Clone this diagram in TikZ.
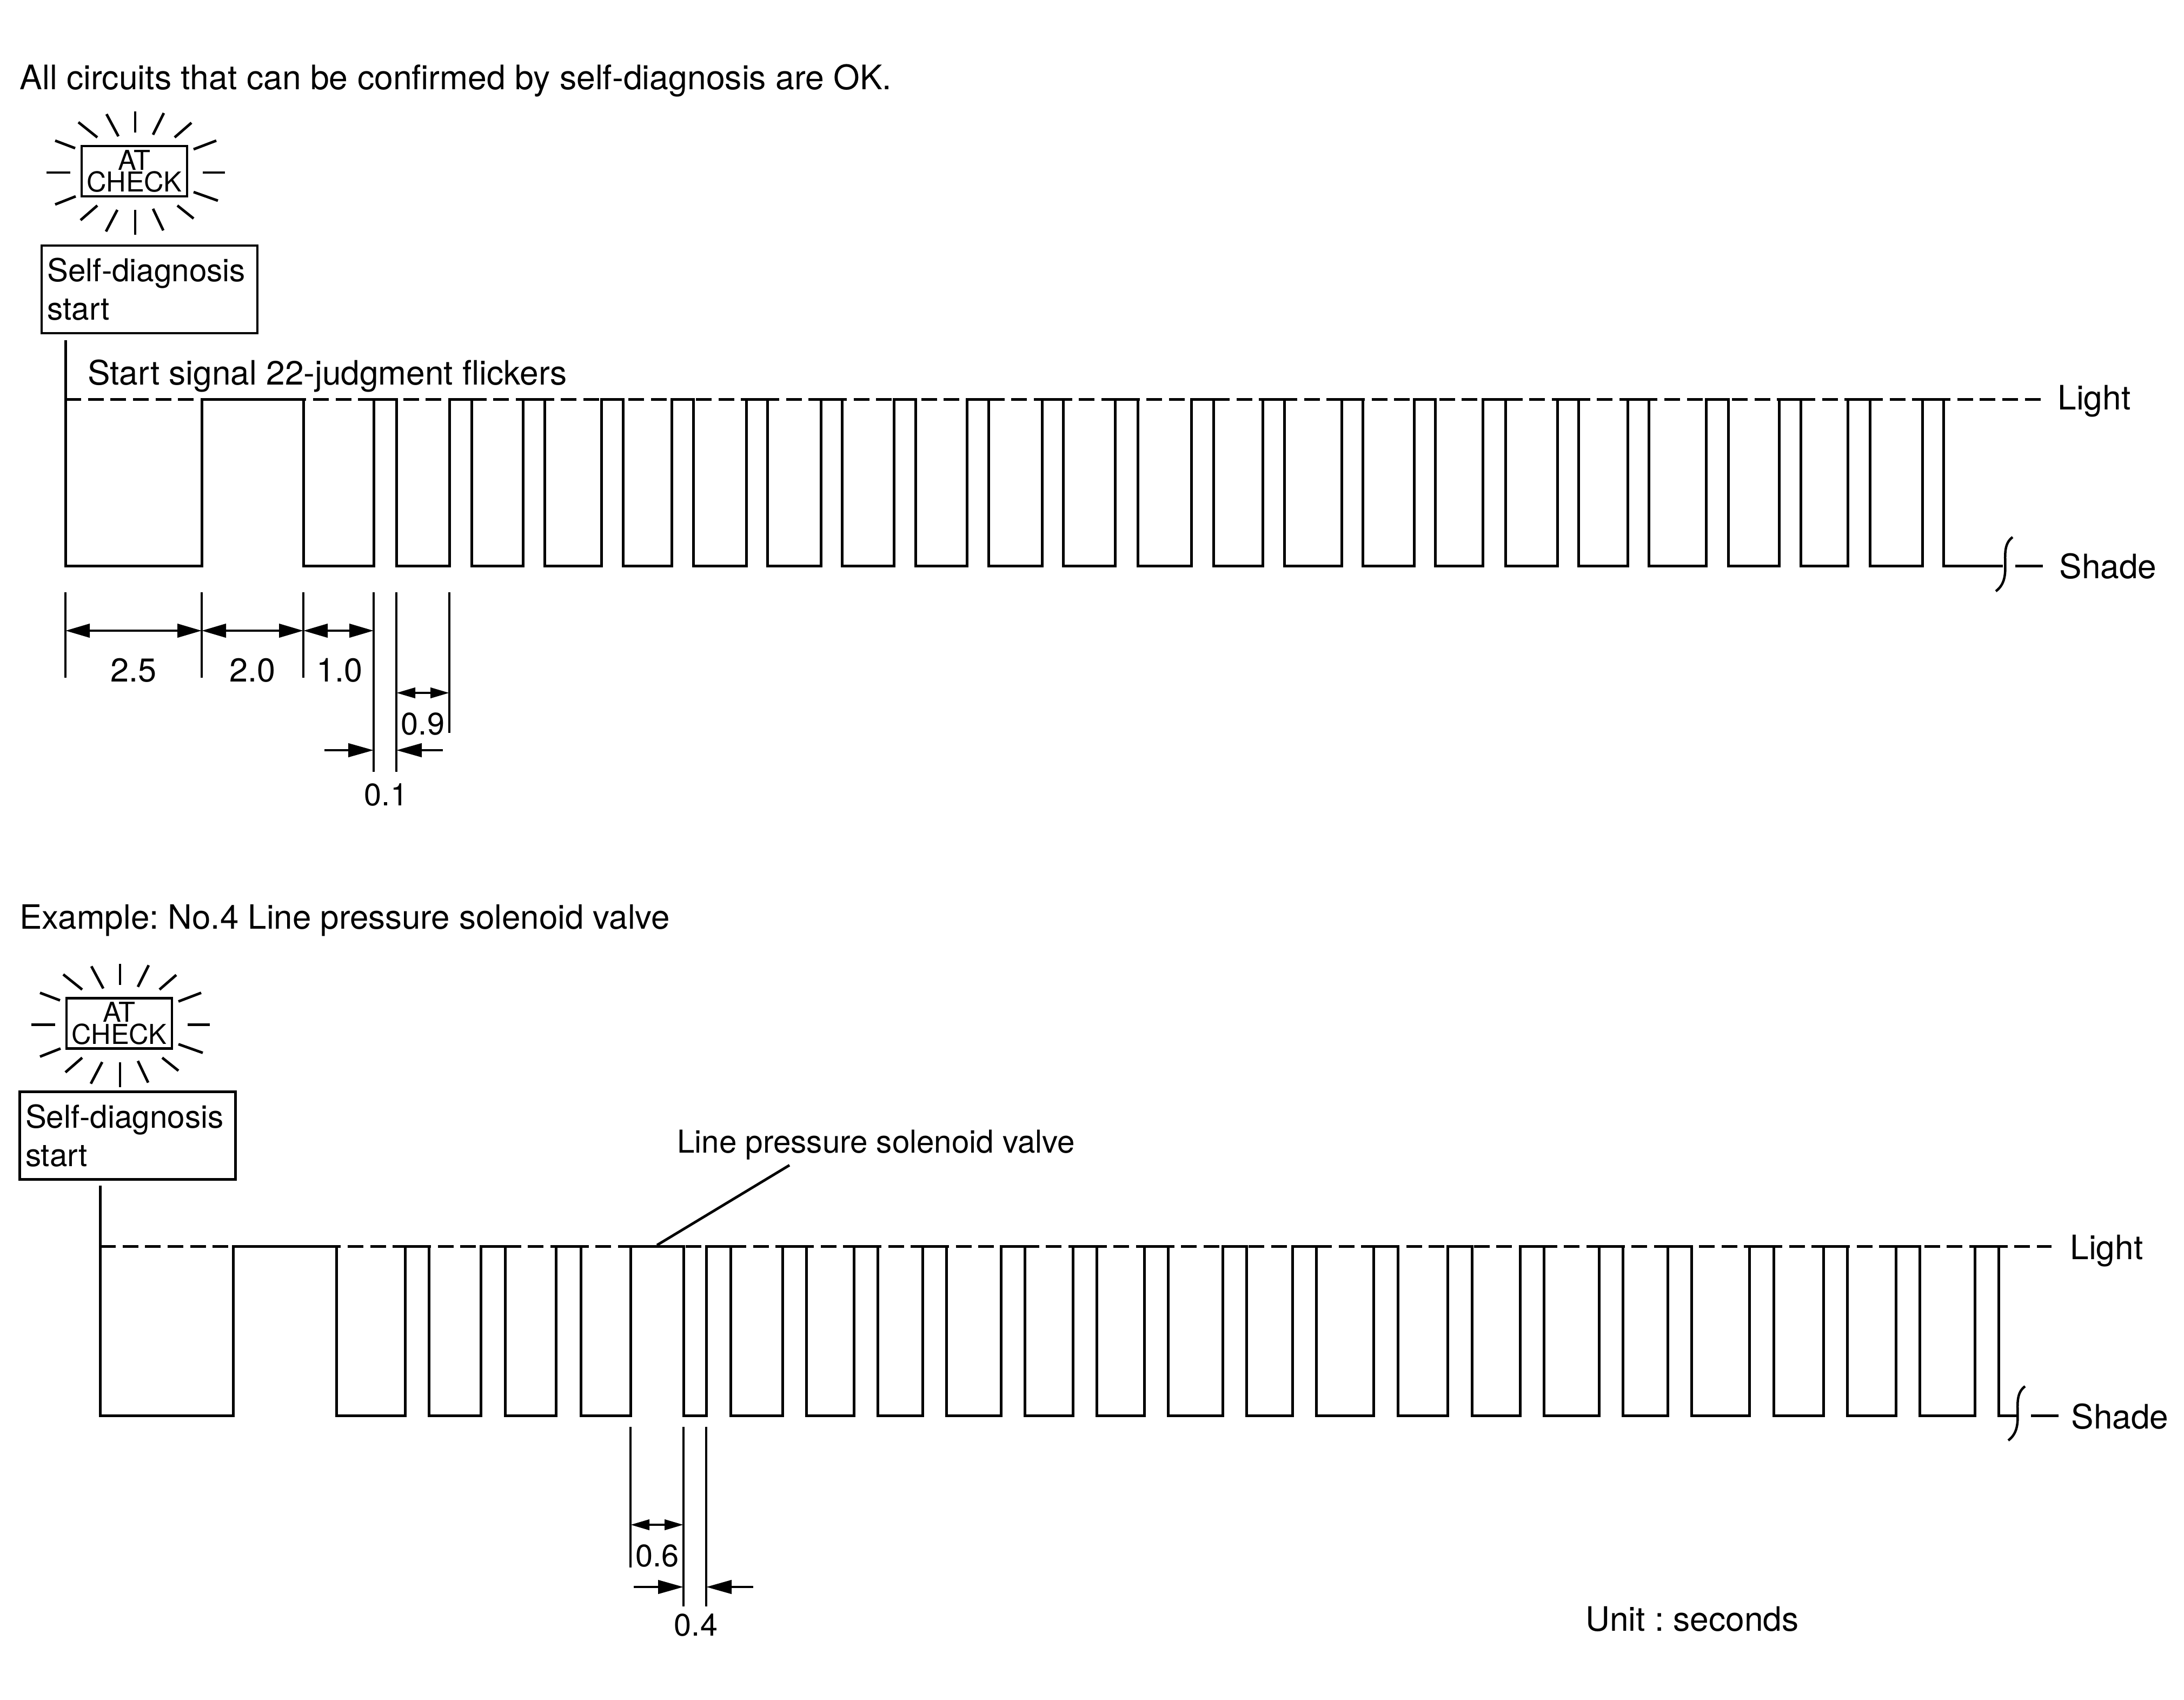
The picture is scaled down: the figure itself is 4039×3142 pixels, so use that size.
\documentclass[tikz,border=0pt]{standalone}
\usepackage{fontspec}
\setmainfont{TeX Gyre Heros}
\usetikzlibrary{arrows.meta}
\begin{document}
\frenchspacing
\begin{tikzpicture}[x=0.1mm, y=-0.1mm, line width=0.5mm]
\tikzset{
  wave/.style={line width=0.5mm,line join=miter},
  lightline/.style={line width=0.5mm,dash pattern=on 2.9mm off 1.265mm},
  head/.style={font=\fontsize{17.78}{20}\selectfont,inner sep=0pt,anchor=base west},
  lab/.style={font=\fontsize{17.7}{20}\selectfont,inner sep=0pt,anchor=base west},
  note/.style={font=\fontsize{16.6}{20}\selectfont,inner sep=0pt,anchor=base west},
  big/.style={font=\fontsize{17.4}{20}\selectfont,inner sep=0pt,anchor=base},
  small/.style={font=\fontsize{16.4}{20}\selectfont,inner sep=0pt,anchor=base},
  startbox/.style={rectangle,draw,line width=0.48mm,minimum width=39.9mm,minimum height=16.2mm,inner xsep=1.05mm,inner ysep=0pt,text width=37.8mm,align=left,font=\fontsize{16.6}{20.2}\selectfont},
  lampbox/.style={rectangle,draw,line width=0.48mm,minimum width=19.5mm,minimum height=9.3mm,inner sep=0pt,align=center,font=\fontsize{14.4}{11.6}\selectfont},
  dimbig/.style={{Triangle[length=4.5mm,width=2.5mm]}-{Triangle[length=4.5mm,width=2.5mm]},line width=0.45mm},
  dimsmall/.style={{Triangle[length=3.5mm,width=1.9mm]}-{Triangle[length=3.5mm,width=1.9mm]},line width=0.45mm},
  dimin/.style={-{Triangle[length=4.7mm,width=2.5mm]},line width=0.45mm},
  atcheck/.pic={
    \node[lampbox] (-box) at (-1.5,-2.5) {AT\\CHECK};
    \foreach \xa/\ya/\xb/\yb in {0/-113/0/-74, 53/-110/33/-70, 104/-92/73/-65, 150/-59/108/-43, 166/0/125/0, 153/52/108/36, 108/85/78/61, 52/107/33/67, 0/115/0/69, -54/109/-33/69, -101/88/-70/61, -148/59/-110/44, -164/0/-120/0, -148/-59/-111/-45, -105/-93/-70/-65, -53/-108/-31/-67}
      \draw[line width=0.48mm] (\xa,\ya) -- (\xb,\yb);
  },
  breakmark/.pic={
    \draw[line width=0.45mm] (0,-52) .. controls (-30,-30) and (4,22) .. (-31,48);
  }
}
\useasboundingbox[fill=white] (0,0) rectangle (4039,3142);
% ---- first chart
\node[head] (titleA) at (34,165) {All circuits that can be confirmed by self-diagnosis are OK.};
\pic (lampA) at (250,319) {atcheck};
\node[startbox] (startA) at (276.5,535) {Self-diagnosis\\start};
\node[lab] (flick) at (160,711) {Start signal 22-judgment flickers};
\draw[lightline] (121,738) -- (3774,738);
\draw[wave] (121,629)
  \foreach \a/\b in {121/373,561/691,733/831,872/967,1007/1112,1152/1242,1282/1380,1419/1518,1557/1653,1693/1788,1828/1927,1966/2062,2104/2203,2244/2335,2375/2481,2520/2615,2654/2742,2784/2880,2919/3010,3049/3155,3196/3290,3330/3417,3458/3555}
    { -- (\a,738) -- (\a,1046) -- (\b,1046) -- (\b,738) }
  -- (3594,738) -- (3594,1046) -- (3704,1046);
\pic at (3722,1045) {breakmark};
\coordinate (tailA) at (3727,1046);
\draw[wave] (tailA) -- ++(51,0);
\node[lab] (lightA) at (3803,757) {Light};
\node[lab] (shadeA) at (3806,1069) {Shade};
% ---- first chart, dimensions
\foreach \x/\yb in {121/1253,373/1253,561/1253,691/1427,733/1427,831/1355}
  \draw[line width=0.48mm] (\x,1095) -- (\x,\yb);
\coordinate (a1) at (121,1166); \coordinate (a2) at (373,1166);
\coordinate (a3) at (561,1166); \coordinate (a4) at (691,1166);
\coordinate (b1) at (733,1281); \coordinate (b2) at (831,1281);
\coordinate (c1) at (600,1387); \coordinate (c2) at (691,1387);
\coordinate (c3) at (819,1387); \coordinate (c4) at (733,1387);
\draw[dimbig] (a1) -- (a2);
\draw[dimbig] (a2) -- (a3);
\draw[dimbig] (a3) -- (a4);
\draw[dimsmall] (b1) -- (b2);
\draw[dimin] (c1) -- (c2);
\draw[dimin] (c3) -- (c4);
\node[big] (d25) at (247,1260) {2.5};
\node[big] (d20) at (467,1260) {2.0};
\node[big] (d10) at (628,1260) {1.0};
\node[small] (d09) at (782,1358) {0.9};
\node[small] (d01) at (714,1489) {0.1};
% ---- second chart
\node[head,font=\fontsize{17.6}{20}\selectfont] (titleB) at (34,1717) {Example: No.4 Line pressure solenoid valve};
\pic (lampB) at (222,1894.5) {atcheck};
\node[startbox] (startB) at (236,2099.5) {Self-diagnosis\\start};
\node[note] (valve) at (1250,2131) {Line pressure solenoid valve};
\draw[lightline] (185,2304) -- (3794,2304);
\draw[wave] (185,2192)
  \foreach \a/\b in {185/431,622/749,793/889,934/1028,1074/1166,1264/1306,1351/1447,1491/1579,1623/1706,1750/1851,1895/1984,2028/2116,2160/2261,2305/2390,2434/2540,2585/2677,2722/2811,2855/2957,3001/3084,3128/3235,3280/3372,3416/3506,3550/3652}
    { -- (\a,2304) -- (\a,2617) -- (\b,2617) -- (\b,2304) }
  -- (3696,2304) -- (3696,2617) -- (3732,2617);
\pic at (3745,2615) {breakmark};
\coordinate (tailB) at (3756,2617);
\draw[wave] (tailB) -- ++(51,0);
\coordinate (leadB) at (1215,2302);
\draw[line width=0.48mm] (valve.south west) ++(210,8) -- (leadB);
\node[lab] (lightB) at (3826,2328) {Light};
\node[lab] (shadeB) at (3828,2641) {Shade};
% ---- second chart, dimensions
\foreach \x/\yb in {1166/2898,1264/2970,1306/2970}
  \draw[line width=0.48mm] (\x,2638) -- (\x,\yb);
\coordinate (e1) at (1166,2819); \coordinate (e2) at (1264,2819);
\coordinate (f1) at (1172,2934); \coordinate (f2) at (1264,2934);
\coordinate (f3) at (1393,2934); \coordinate (f4) at (1306,2934);
\draw[dimsmall] (e1) -- (e2);
\draw[dimin] (f1) -- (f2);
\draw[dimin] (f3) -- (f4);
\node[small] (d06) at (1215.5,2896) {0.6};
\node[small] (d04) at (1287,3024) {0.4};
\node[lab] (unit) at (2930,3015) {Unit : seconds};
\end{tikzpicture}
\end{document}
